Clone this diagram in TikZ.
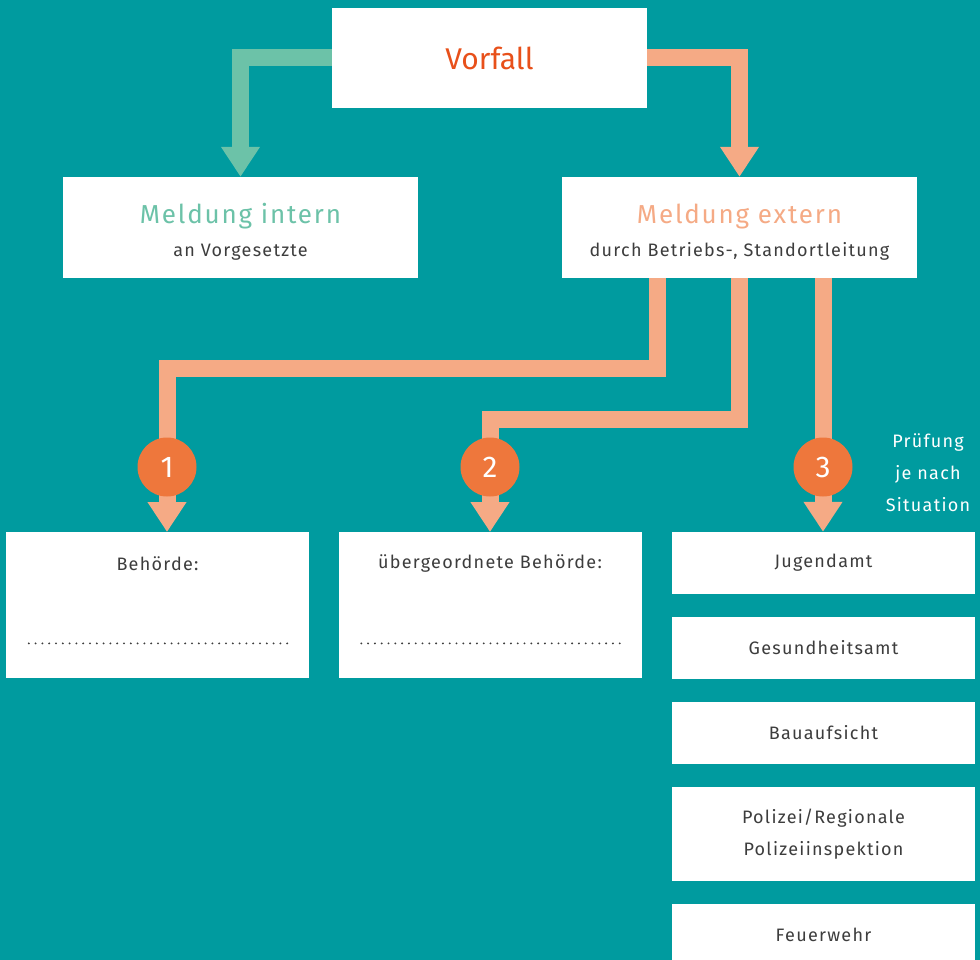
\documentclass[tikz,border=0pt]{standalone}
\usepackage{fontspec}
\setmainfont{Fira Sans}[LetterSpace=7]
\newfontfamily\plainfont{Fira Sans}
\usepackage{tikz}
\usetikzlibrary{calc}
\usetikzlibrary{arrows.meta}
\usetikzlibrary{positioning}
\definecolor{lagoon}{RGB}{0, 155, 159}
\definecolor{salmon}{RGB}{245, 170, 133}
\definecolor{mint}{RGB}{108, 194, 168}
\definecolor{tangerine}{RGB}{238, 119, 60}
\definecolor{vermilion}{RGB}{232, 80, 26}
\definecolor{graphite}{RGB}{61, 61, 61}

\tikzset{
    card/.style={fill=white, inner sep=0pt, minimum width=303pt, minimum height=62pt, align=center,
                 text=graphite, font=\fontsize{18}{32}\selectfont},
    flow/.style={line width=17pt, line join=miter},
    tip/.style={-{Triangle[width=37pt, length=30pt]}},
    badge/.style={circle, fill=tangerine, minimum size=59pt, inner sep=0pt, text=white,
                  font=\plainfont\fontsize{30}{30}\selectfont},
    dotline/.style={graphite, line width=2.1pt, line cap=round, dash pattern=on 0pt off 6.8pt}
}

\begin{document}
\begin{tikzpicture}[x=1pt, y=-1pt]
            % Background
            \fill[lagoon] (0,0) rectangle (980,960);
            \useasboundingbox (0,0) rectangle (980,960);
            % Top row
            \node[card, minimum width=315pt, minimum height=100pt, text=vermilion,
                  font=\plainfont\fontsize{30}{30}\selectfont]                 (vorfall) at (489.5, 58.0) {Vorfall};
            \node[card, minimum width=355pt, minimum height=101pt]            (intern)  at (240.5,227.5)
                 {\rule{0pt}{28pt}\textcolor{mint}{\fontsize{26}{26}\selectfont Meldung intern}\\[1pt]an Vorgesetzte};
            \node[card, minimum width=355pt, minimum height=101pt]            (extern)  at (739.5,227.5)
                 {\rule{0pt}{28pt}\textcolor{salmon}{\fontsize{26}{26}\selectfont Meldung extern}\\[1pt]durch Betriebs-, Standortleitung};
            \draw[flow, tip, mint]   (vorfall.west) -| (intern.north);
            \draw[flow, tip, salmon] (vorfall.east) -| (extern.north);
            % Targets
            \node[card, minimum height=146pt, anchor=north]                   (beh1)    at (157.5,532.0) {};
            \node[card, minimum height=146pt, anchor=north]                   (beh2)    at (490.0,532.0) {};
            \node[card]                                                       (jugend)  at (823.5,563.0) {Jugendamt};
            \node[card]                                                       (gesund)  at (823.5,648.0) {Gesundheitsamt};
            \node[card]                                                       (bau)     at (823.5,733.0) {Bauaufsicht};
            \node[card, minimum height=94pt]                                  (polizei) at (823.5,834.0) {Polizei\kern1pt/\kern1pt Regionale\\Polizeiinspektion};
            \node[card]                                                       (feuer)   at (823.5,935.0) {Feuerwehr};
            \node[card, fill=none]                                            (t1)      at ([yshift=-32pt]beh1.north) {Behörde:};
            \node[card, fill=none]                                            (t2)      at ([yshift=-32pt]beh2.north) {übergeordnete Behörde:};
            \draw[dotline] ([xshift=23pt, yshift=35pt]beh1.south west) -- ([xshift=-22pt, yshift=35pt]beh1.south east);
            \draw[dotline] ([xshift=23pt, yshift=35pt]beh2.south west) -- ([xshift=-22pt, yshift=35pt]beh2.south east);
            % Numbered routes
            \coordinate                                                       (c1)      at (167.0,467.0);
            \coordinate                                                       (c2)      at (490.0,467.0);
            \coordinate                                                       (c3)      at (823.0,467.0);
            \draw[flow, salmon] ([xshift=-82.5pt]extern.south) |- ([yshift=99pt]c1) -- (c1);
            \draw[flow, salmon] (extern.south) |- ([yshift=47.5pt]c2) -- (c2);
            \draw[flow, salmon] ([xshift=83.5pt]extern.south) -- (c3);
            \draw[flow, tip, salmon] (c1) -- (c1 |- beh1.north);
            \draw[flow, tip, salmon] (c2) -- (c2 |- beh2.north);
            \draw[flow, tip, salmon] (c3) -- (c3 |- jugend.north);
            \node[badge]                                                      (n1)      at (c1) {1};
            \node[badge]                                                      (n2)      at (c2) {2};
            \node[badge]                                                      (n3)      at (c3) {3};
            \node[text=white, align=center, font=\fontsize{18}{32}\selectfont] (pruef)   at (928.0,473.0) {Prüfung\\je nach\\Situation};
\end{tikzpicture}
\end{document}
